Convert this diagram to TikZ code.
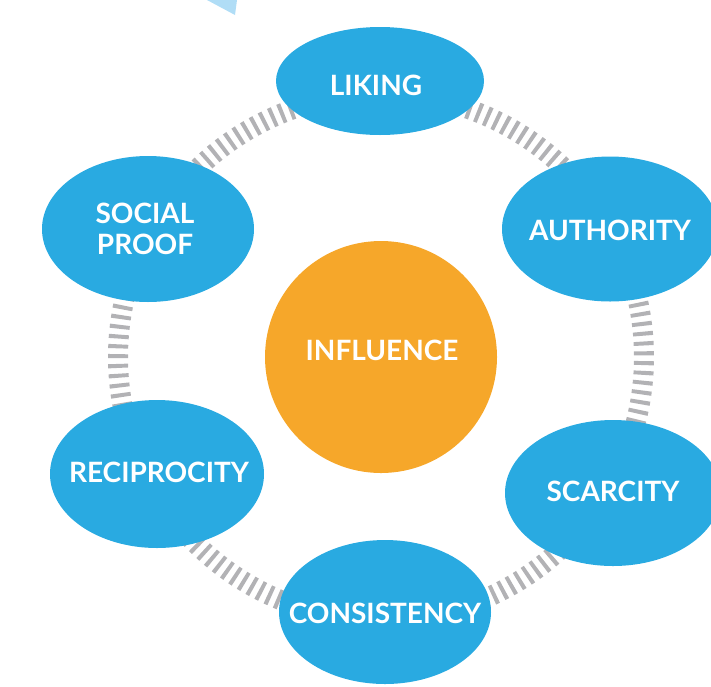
\documentclass[tikz,border=0pt]{standalone}
\usepackage{fontspec}
\setmainfont{Lato}[UprightFont=* Bold]
\usetikzlibrary{shapes.geometric}
\definecolor{petal}{RGB}{41,170,225}
\definecolor{core}{RGB}{246,167,42}
\definecolor{ring}{RGB}{178,178,181}
\definecolor{pale}{RGB}{176,221,246}
\begin{document}
\begin{tikzpicture}[x=1pt,y=-1pt,
  petalnode/.style={ellipse,fill=petal,inner sep=0pt},
  labeltext/.style={text=white,inner sep=0pt,align=center,
    font=\fontsize{28}{31}\selectfont},
  corenode/.style={circle,fill=core,inner sep=0pt,minimum size=232pt},
  ringline/.style={draw=ring,line width=20pt,dash pattern=on 4pt off 5.8pt}]
\useasboundingbox (0,0) rectangle (711,686);
% pale wedge at the top edge
\fill[pale] (207,0) -- (237,0) -- (235,15) -- cycle;
% central circle
\node[corenode] (inf) at (381,357) {};
\node[labeltext] (inft) at (382,350) {INFLUENCE};
% ring segments between the outer ellipses
\foreach \a/\b in {-90/-29,-29/30,30/89,89/152,152/209,209/270}
  \draw[ringline] (inf.center) ++(\a:263) arc[start angle=\a,end angle=\b,radius=263];
% outer ellipses
\node[petalnode,minimum width=208pt,minimum height=108pt] (lik) at (380,81) {};
\node[petalnode,minimum width=216pt,minimum height=145pt] (aut) at (610,229) {};
\node[petalnode,minimum width=216pt,minimum height=146pt] (sca) at (613,493) {};
\node[petalnode,minimum width=212pt,minimum height=144pt] (con) at (385,612) {};
\node[petalnode,minimum width=214pt,minimum height=148pt] (rec) at (157,474) {};
\node[petalnode,minimum width=212pt,minimum height=146pt] (soc) at (148,229) {};
% ellipse captions
\node[labeltext] (likt) at (376,85) {LIKING};
\node[labeltext] (autt) at (610,230) {AUTHORITY};
\node[labeltext] (scat) at (613,491) {SCARCITY};
\node[labeltext] (cont) at (385,613) {CONSISTENCY};
\node[labeltext] (rect) at (159,472) {RECIPROCITY};
\node[labeltext] (soct) at (145,229) {SOCIAL\\PROOF};
\end{tikzpicture}
\end{document}
